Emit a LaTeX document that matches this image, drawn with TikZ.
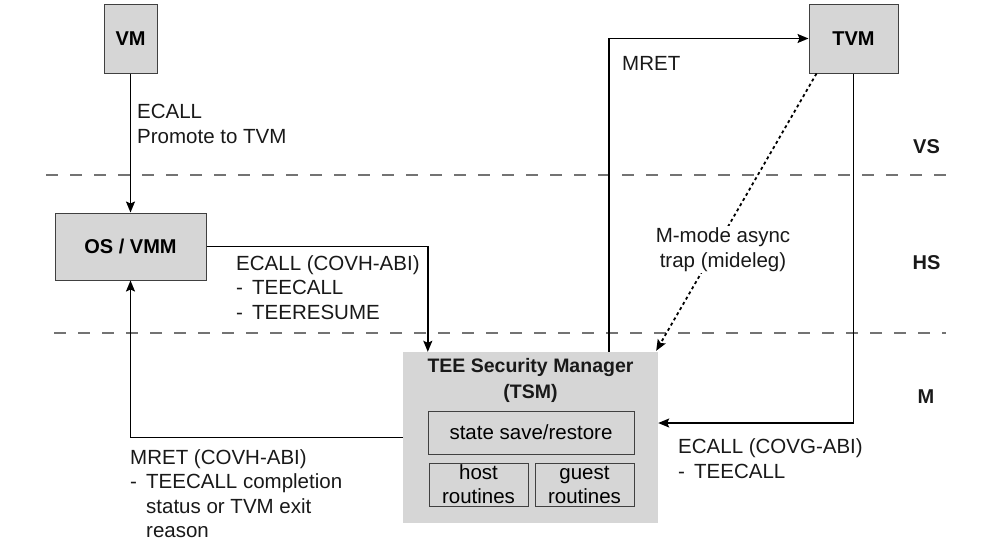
\documentclass[tikz,border=0pt]{standalone}
\usepackage{fontspec}
\setmainfont{Liberation Sans}
\usetikzlibrary{arrows.meta,calc}
\begin{document}
\begin{tikzpicture}[x=1pt,y=-1pt,
  txt/.style={font=\fontsize{20.5}{24.5}\selectfont, inner sep=0pt, align=left, text=black!90},
  lvl/.style={font=\fontsize{20}{24}\bfseries\selectfont, inner sep=0pt, text=black!90},
  modebox/.style={draw=black!75, line width=1pt, fill=black!16, inner sep=0pt, font=\fontsize{20}{24}\bfseries\selectfont},
  subbox/.style={draw=black!75, line width=1pt, fill=black!16, inner sep=0pt, align=center, font=\fontsize{20.5}{24}\selectfont},
  arr/.style={line width=1.5pt, -{Stealth[length=11pt,width=9pt,inset=2pt]}},
  dotarr/.style={line width=1.8pt, dash pattern=on 3pt off 3pt, -{Stealth[length=11pt,width=9pt,inset=2pt]}},
  level/.style={draw=black!55, line width=1.7pt, dash pattern=on 12pt off 12pt}
]
\useasboundingbox (0,0) rectangle (1000,550);
% level separators
\coordinate (l1a) at (46,175); \coordinate (l1b) at (946,175);
\coordinate (l2a) at (54,333); \coordinate (l2b) at (946,333);
\draw[level] (l1a) -- (l1b);
\draw[level] (l2a) -- (l2b);
\node[lvl] (vs) at (926.5,147) {VS};
\node[lvl] (hs) at (926.5,263) {HS};
\node[lvl] (mm) at (926,397) {M};

% boxes
\node[modebox, minimum width=53pt, minimum height=69pt] (vm) at (130.5,38.5) {VM};
\node[modebox, minimum width=151pt, minimum height=67pt] (os) at (130.5,246.5) {OS / VMM};
\node[modebox, minimum width=89pt, minimum height=69pt] (tvm) at (853.5,38.5) {TVM};
\node[fill=black!16, inner sep=0pt, minimum width=255pt, minimum height=171pt] (tsm) at (530.5,437.5) {};
\node[txt, align=center, font=\fontsize{19.5}{26}\bfseries\selectfont] (tsmtitle) at (530.5,380) {TEE Security Manager\\(TSM)};
\node[subbox, minimum width=206pt, minimum height=43pt] (state) at (531,432.5) {state save/restore};
\node[subbox, minimum width=99pt, minimum height=43pt] (host) at (478.5,484.5) {host\\routines};
\node[subbox, minimum width=99pt, minimum height=43pt] (guest) at (584.5,484.5) {guest\\routines};

% connectors
\draw[arr] (vm.south) -- (os.north);
\node[txt, anchor=west] (l-ecall) at (137,124) {ECALL\\Promote to TVM};

\draw[arr] (os.east) -| ($(tsm.north west)+(25,0)$);
\node[txt, anchor=west] (l-covh) at (236,287.5) {ECALL (COVH-ABI)\\\makebox[16pt][l]{-}TEECALL\\\makebox[16pt][l]{-}TEERESUME};

\draw[arr] (tsm.west) -| (os.south);
\node[txt, anchor=west] (l-mret) at (130,493.5) {MRET (COVH-ABI)\\\makebox[16pt][l]{-}TEECALL completion\\\hspace*{16pt}status or TVM exit\\\hspace*{16pt}reason};

\draw[arr] ($(tsm.north west)+(206,0)$) |- (tvm.west);
\node[txt, anchor=west] (l-mret2) at (622,63) {MRET};

\draw[arr] (tvm.south) |- ($(tsm.east)+(0,-14.5)$);
\node[txt, anchor=west] (l-covg) at (678,458.5) {ECALL (COVG-ABI)\\\makebox[16pt][l]{-}TEECALL};

\draw[dotarr] ($(tvm.south west)+(8,0)$) -- ($(tsm.north east)+(-2,-1)$);
\node[txt, align=center, fill=white, inner sep=2pt] (l-async) at (723,249.5) {M-mode async\\trap (mideleg)};
\end{tikzpicture}
\end{document}
